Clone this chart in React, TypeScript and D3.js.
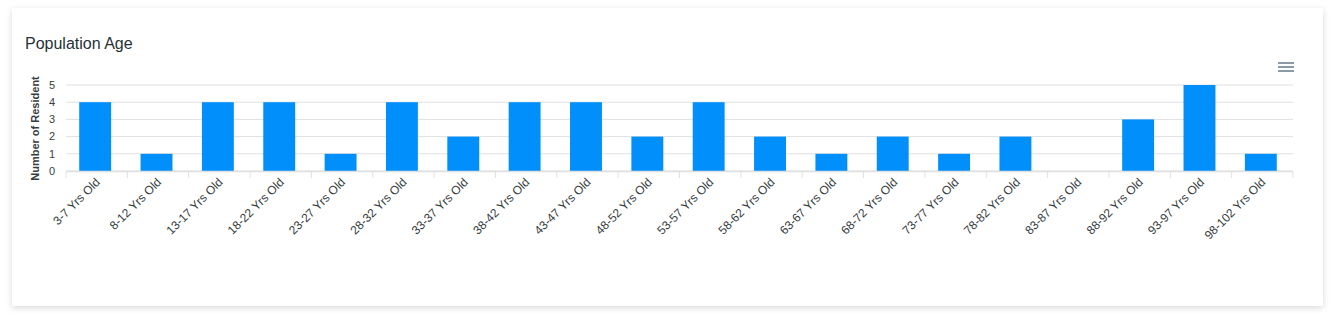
import React from "react";
import * as d3 from "d3";

const categories = [
  "3-7 Yrs Old", "8-12 Yrs Old", "13-17 Yrs Old", "18-22 Yrs Old", "23-27 Yrs Old",
  "28-32 Yrs Old", "33-37 Yrs Old", "38-42 Yrs Old", "43-47 Yrs Old", "48-52 Yrs Old",
  "53-57 Yrs Old", "58-62 Yrs Old", "63-67 Yrs Old", "68-72 Yrs Old", "73-77 Yrs Old",
  "78-82 Yrs Old", "83-87 Yrs Old", "88-92 Yrs Old", "93-97 Yrs Old", "98-102 Yrs Old",
];
const residents = [4, 1, 4, 4, 1, 4, 2, 4, 4, 2, 4, 2, 1, 2, 1, 2, 0, 3, 5, 1];
const yTicks = [0, 1, 2, 3, 4, 5];
const title = "Population Age";
const yTitle = "Number of Resident";

const W = 1335;
const H = 323;
const FONT = "Helvetica, Arial, 'Liberation Sans', sans-serif";

export default function App() {
  const left = 66;
  const right = 1293;
  const top = 85;
  const bottom = 171;
  const x = d3.scaleBand<string>().domain(categories).range([left, right]).paddingInner(0.48).paddingOuter(0.24);
  const xb = d3.scaleBand<string>().domain(categories).range([left, right]);
  const y = d3.scaleLinear().domain([0, 5]).range([bottom, top]);
  const tickXs = d3.range(categories.length + 1).map((i) => left + i * xb.step());

  return (
    <div style={{ position: "absolute", left: 0, top: 0, width: W, height: H, background: "#fff" }}>
      <svg width={W} height={H} style={{ display: "block" }}>
        <defs>
          <filter id="shadow" x="-5%" y="-20%" width="110%" height="140%">
            <feDropShadow dx="0" dy="2" stdDeviation="3" floodColor="#000" floodOpacity="0.15" />
          </filter>
        </defs>
        <rect x={12} y={8} width={1311} height={298} fill="#fff" filter="url(#shadow)" />
        <text x={25} y={49} fontFamily={FONT} fontSize={16} fill="#263238">{title}</text>

        {/* menu icon */}
        <g stroke="#6E8192" strokeWidth={1.6}>
          {[63, 67, 71].map((yy) => (
            <line key={yy} x1={1278} x2={1294} y1={yy} y2={yy} />
          ))}
        </g>

        {/* grid */}
        {yTicks.map((t) => (
          <line key={t} x1={left} x2={right} y1={y(t)} y2={y(t)} stroke="#e0e0e0" strokeWidth={1} />
        ))}
        {/* y labels */}
        {yTicks.map((t) => (
          <text key={"l" + t} x={55} y={y(t)} dy="0.35em" textAnchor="end" fontFamily={FONT} fontSize={11} fill="#373d3f">
            {t}
          </text>
        ))}
        <text
          transform={`translate(38.5, ${(top + bottom) / 2 + 0.5}) rotate(-90)`}
          textAnchor="middle"
          fontFamily={FONT}
          fontSize={11}
          fontWeight="bold"
          fill="#373d3f"
        >
          {yTitle}
        </text>

        {/* bars */}
        {categories.map((c, i) => (
          <rect
            key={c}
            x={x(c)! - 1.5}
            y={y(residents[i])}
            width={x.bandwidth()}
            height={bottom - y(residents[i])}
            fill="#008FFB"
          />
        ))}

        {/* x axis */}
        <line x1={left} x2={right} y1={bottom + 0.5} y2={bottom + 0.5} stroke="#e0e0e0" strokeWidth={1.5} />
        {tickXs.map((tx, i) => (
          <line key={"t" + i} x1={tx} x2={tx} y1={bottom + 1} y2={bottom + 7} stroke="#e0e0e0" strokeWidth={1} />
        ))}
        {categories.map((c) => {
          const cx = xb(c)! + xb.bandwidth() / 2;
          return (
            <text
              key={"x" + c}
              transform={`translate(${cx + 4}, 183) rotate(-45)`}
              textAnchor="end"
              fontFamily={FONT}
              fontSize={12}
              fill="#373d3f"
            >
              {c}
            </text>
          );
        })}
      </svg>
    </div>
  );
}
